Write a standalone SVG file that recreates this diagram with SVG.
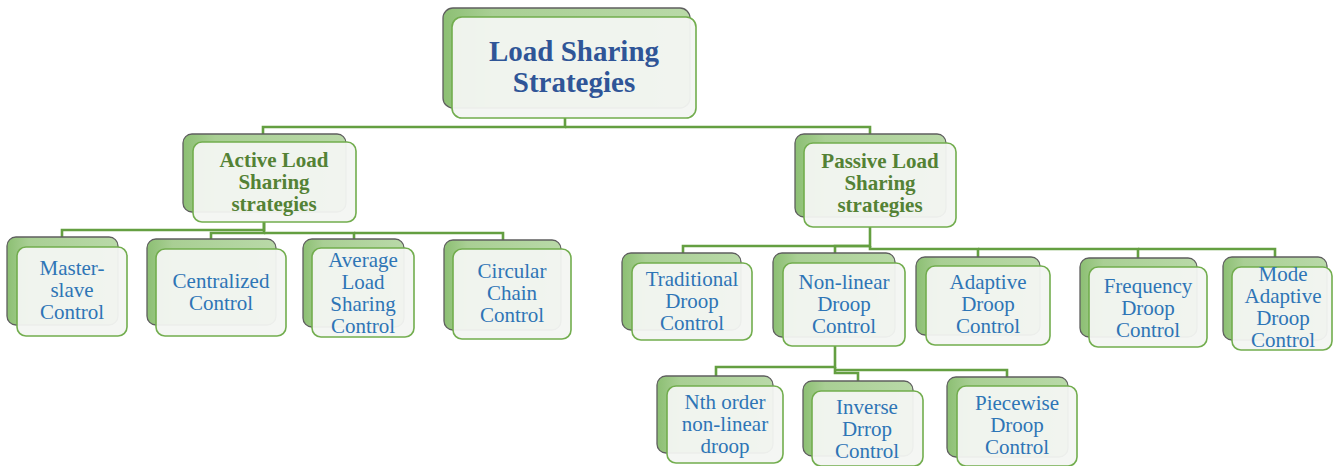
<svg xmlns="http://www.w3.org/2000/svg" width="1334" height="466" viewBox="0 0 1334 466">
<defs>
<linearGradient id="bg" x1="0" y1="0" x2="1" y2="0">
<stop offset="0" stop-color="#8cbf73"/>
<stop offset="0.2" stop-color="#a9cf94"/>
<stop offset="1" stop-color="#b9d9a8"/>
</linearGradient>
<style>
.back{fill:url(#bg);stroke:#5f5f5f;stroke-width:1.3}
.front{fill:#f3f6f2;fill-opacity:0.95;stroke:#72ad4e;stroke-width:1.6}
.conn{fill:none;stroke:#649f41;stroke-width:2.6}
.title{font-family:"Liberation Serif","DejaVu Serif",serif;font-weight:bold;font-size:29px;fill:#2f5597;text-anchor:middle}
.mid{font-family:"Liberation Serif","DejaVu Serif",serif;font-weight:bold;font-size:21px;fill:#548235;text-anchor:middle}
.leaf{font-family:"Liberation Serif","DejaVu Serif",serif;font-size:21px;fill:#2e75b6;text-anchor:middle}
</style>
</defs>
<g id="connectors">
<path class="conn" d="M565 118 V127 H263 V135"/>
<path class="conn" d="M565 127 H870 V135"/>
<path class="conn" d="M264 222 V230 H62 V237"/>
<path class="conn" d="M264 222 V233 H211 V239"/>
<path class="conn" d="M264 233 H354 V239"/>
<path class="conn" d="M354 233 H503 V240"/>
<path class="conn" d="M870 227 V246 H683 V253"/>
<path class="conn" d="M870 246 H835 V253"/>
<path class="conn" d="M870 246 V249 H978 V257"/>
<path class="conn" d="M978 249 H1138 V258"/>
<path class="conn" d="M1138 249 H1275 V257"/>
<path class="conn" d="M835 346 V367 H716 V376"/>
<path class="conn" d="M835 367 V373 H858 V381"/>
<path class="conn" d="M835 370 H1007 V377"/>
</g>
<g id="root">
<rect class="back" x="443" y="8" width="247" height="100" rx="10"/>
<rect class="front" x="452" y="17" width="244" height="101" rx="10"/>
<text class="title" x="574" y="61">Load Sharing</text>
<text class="title" x="574" y="92">Strategies</text>
</g>
<g id="active">
<rect class="back" x="183" y="134" width="163" height="78" rx="9"/>
<rect class="front" x="193" y="142" width="163" height="80" rx="9"/>
<text class="mid" x="274" y="167">Active Load</text>
<text class="mid" x="274" y="189">Sharing</text>
<text class="mid" x="274" y="211">strategies</text>
</g>
<g id="passive">
<rect class="back" x="795" y="134" width="151" height="83" rx="9"/>
<rect class="front" x="804" y="143" width="152" height="84" rx="9"/>
<text class="mid" x="880" y="168">Passive Load</text>
<text class="mid" x="880" y="190">Sharing</text>
<text class="mid" x="880" y="212">strategies</text>
</g>
<g id="master-slave">
<rect class="back" x="7" y="237" width="111" height="88" rx="9"/>
<rect class="front" x="17" y="247" width="110" height="89" rx="9"/>
<text class="leaf" x="72" y="275">Master-</text>
<text class="leaf" x="72" y="297">slave</text>
<text class="leaf" x="72" y="319">Control</text>
</g>
<g id="centralized">
<rect class="back" x="147" y="239" width="129" height="86" rx="9"/>
<rect class="front" x="156" y="249" width="130" height="87" rx="9"/>
<text class="leaf" x="221" y="288">Centralized</text>
<text class="leaf" x="221" y="310">Control</text>
</g>
<g id="average">
<rect class="back" x="303" y="239" width="101" height="88" rx="9"/>
<rect class="front" x="312" y="248" width="102" height="89" rx="9"/>
<text class="leaf" x="363" y="267">Average</text>
<text class="leaf" x="363" y="289">Load</text>
<text class="leaf" x="363" y="311">Sharing</text>
<text class="leaf" x="363" y="333">Control</text>
</g>
<g id="circular">
<rect class="back" x="444" y="240" width="117" height="90" rx="9"/>
<rect class="front" x="453" y="249" width="118" height="90" rx="9"/>
<text class="leaf" x="512" y="278">Circular</text>
<text class="leaf" x="512" y="300">Chain</text>
<text class="leaf" x="512" y="322">Control</text>
</g>
<g id="traditional">
<rect class="back" x="622" y="253" width="119" height="77" rx="9"/>
<rect class="front" x="632" y="263" width="120" height="77" rx="9"/>
<text class="leaf" x="692" y="286">Traditional</text>
<text class="leaf" x="692" y="308">Droop</text>
<text class="leaf" x="692" y="330">Control</text>
</g>
<g id="nonlinear">
<rect class="back" x="773" y="253" width="122" height="84" rx="9"/>
<rect class="front" x="783" y="263" width="122" height="83" rx="9"/>
<text class="leaf" x="844" y="289">Non-linear</text>
<text class="leaf" x="844" y="311">Droop</text>
<text class="leaf" x="844" y="333">Control</text>
</g>
<g id="adaptive">
<rect class="back" x="916" y="257" width="124" height="78" rx="9"/>
<rect class="front" x="926" y="266" width="124" height="79" rx="9"/>
<text class="leaf" x="988" y="289">Adaptive</text>
<text class="leaf" x="988" y="311">Droop</text>
<text class="leaf" x="988" y="333">Control</text>
</g>
<g id="frequency">
<rect class="back" x="1080" y="258" width="117" height="79" rx="9"/>
<rect class="front" x="1089" y="267" width="118" height="80" rx="9"/>
<text class="leaf" x="1148" y="293">Frequency</text>
<text class="leaf" x="1148" y="315">Droop</text>
<text class="leaf" x="1148" y="337">Control</text>
</g>
<g id="mode-adaptive">
<rect class="back" x="1223" y="257" width="104" height="83" rx="9"/>
<rect class="front" x="1232" y="267" width="100" height="83" rx="9"/>
<text class="leaf" x="1283" y="281">Mode</text>
<text class="leaf" x="1283" y="303">Adaptive</text>
<text class="leaf" x="1283" y="325">Droop</text>
<text class="leaf" x="1283" y="347">Control</text>
</g>
<g id="nth-order">
<rect class="back" x="657" y="376" width="116" height="77" rx="9"/>
<rect class="front" x="667" y="386" width="116" height="77" rx="9"/>
<text class="leaf" x="725" y="409">Nth order</text>
<text class="leaf" x="725" y="431">non-linear</text>
<text class="leaf" x="725" y="453">droop</text>
</g>
<g id="inverse">
<rect class="back" x="803" y="381" width="110" height="75" rx="9"/>
<rect class="front" x="812" y="391" width="111" height="75" rx="9"/>
<text class="leaf" x="867" y="414">Inverse</text>
<text class="leaf" x="867" y="436">Drrop</text>
<text class="leaf" x="867" y="458">Control</text>
</g>
<g id="piecewise">
<rect class="back" x="947" y="377" width="121" height="80" rx="9"/>
<rect class="front" x="957" y="386" width="120" height="80" rx="9"/>
<text class="leaf" x="1017" y="410">Piecewise</text>
<text class="leaf" x="1017" y="432">Droop</text>
<text class="leaf" x="1017" y="454">Control</text>
</g>
</svg>
